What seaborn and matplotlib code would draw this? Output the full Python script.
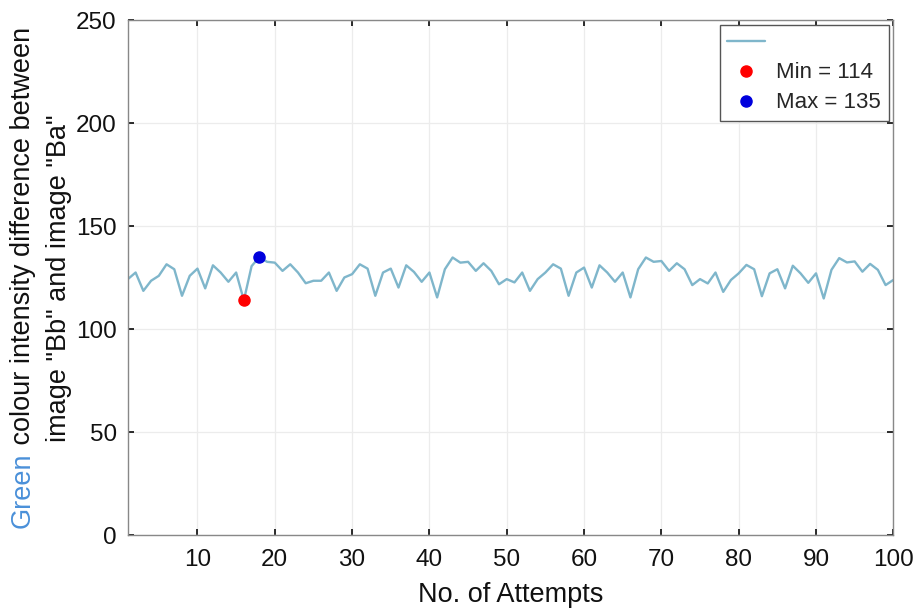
import pandas as pd
import seaborn as sns
import matplotlib.pyplot as plt

# values, one per attempt
attempts = list(range(1, 101))
green_diff = [
    124.3, 127.5, 118.6, 123.5, 125.9, 131.5, 129.1, 116.2, 125.9, 129.4,
    119.8, 131.0, 127.5, 123.0, 127.5, 114.0, 130.6, 135.0, 132.7, 132.3,
    128.3, 131.5, 127.5, 122.3, 123.5,
    123.5, 127.5, 118.6, 125.1, 126.7, 131.5, 129.4, 116.2, 127.5, 129.4,
    120.2, 131.0, 127.8, 123.0, 127.5, 115.4, 129.1, 134.8, 132.3, 132.7,
    128.3, 132.0, 128.3, 121.8, 124.3,
    122.7, 127.5, 118.6, 124.3, 127.5, 131.5, 129.4, 116.2, 127.5, 129.9,
    120.2, 131.0, 127.5, 123.0, 127.5, 115.4, 129.1, 134.8, 132.7, 133.1,
    128.3, 132.0, 129.1, 121.4, 124.3,
    122.2, 127.5, 118.1, 123.9, 127.1, 131.2, 129.1, 116.0, 127.1, 129.1,
    119.8, 130.8, 127.1, 122.5, 127.1, 114.9, 128.8, 134.5, 132.4, 132.9,
    127.9, 131.7, 128.8, 121.4, 123.9,
]
min_attempt, min_value = 16, 114
max_attempt, max_value = 18, 135
x_ticks = [10, 20, 30, 40, 50, 60, 70, 80, 90, 100]
y_ticks = [0, 50, 100, 150, 200, 250]

sns.set_theme(style='whitegrid')
plt.rcParams['font.family'] = ['Liberation Sans', 'DejaVu Sans']

fig = plt.figure(figsize=(9.2, 6.15), dpi=100)
ax = fig.add_axes([0.139, 0.130, 0.832, 0.837])

df = pd.DataFrame({'attempt': attempts, 'diff': green_diff})
sns.lineplot(data=df, x='attempt', y='diff', ax=ax, color='#7fb6cb', linewidth=1.7)
line = ax.get_lines()[0]
red, = ax.plot([min_attempt], [min_value], 'o', color='red', ms=8, zorder=5)
blue, = ax.plot([max_attempt], [max_value], 'o', color='#0000dd', ms=8, zorder=5)

ax.set_xlim(1, 100)
ax.set_ylim(0, 250)
ax.set_xticks(x_ticks)
ax.set_yticks(y_ticks)
ax.set_xlabel('No. of Attempts', fontsize=19.5, color='#111111', labelpad=8)
ax.set_ylabel('')
ax.tick_params(labelsize=17.5, colors='#111111', direction='in', length=4,
               bottom=True, left=True, top=True, right=True, pad=8)
ax.tick_params(axis='x', pad=10)
ax.grid(True, color='#ececec', linewidth=0.9)
for s in ax.spines.values():
    s.set_color('#888888')
    s.set_linewidth(1.0)

ax.legend([line, red, blue], [' ', 'Min = 114', 'Max = 135'], loc='upper right',
          fontsize=16, frameon=True, fancybox=False, framealpha=1,
          edgecolor='#555555', handlelength=1.7, borderaxespad=0.2,
          labelspacing=0.4, handletextpad=0.5, borderpad=0.35)

# two-line y label with the coloured word "Green"
g = fig.text(23 / 920, 1 - 528 / 615, 'Green', rotation=90, ha='center', va='bottom',
             fontsize=19.5, color='#4a90d9')
ax.annotate(' colour intensity difference between', xy=(0.5, 1), xycoords=g,
            rotation=90, ha='center', va='bottom', fontsize=19.5, color='#111111',
            annotation_clip=False)
fig.text(59 / 920, 1 - 278 / 615, 'image "Bb" and image "Ba"', rotation=90,
         ha='center', va='center', fontsize=19.5, color='#111111')

fig.savefig('out.png', dpi=100)
